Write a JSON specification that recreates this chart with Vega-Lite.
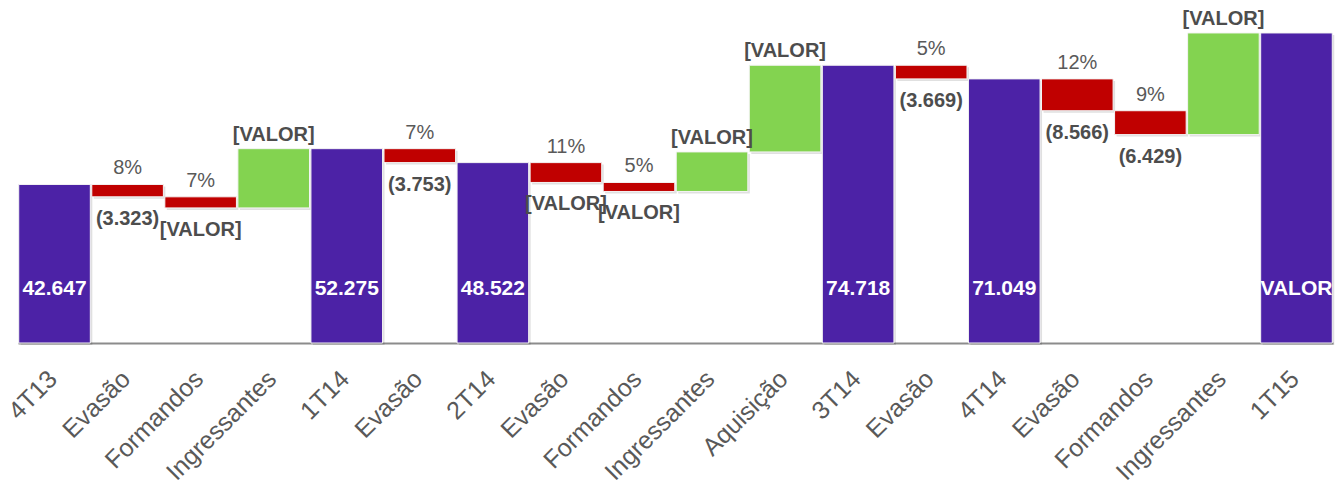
{
  "$schema": "https://vega.github.io/schema/vega-lite/v6.json",
  "width": 1315,
  "height": 335,
  "autosize": {"type": "none"},
  "padding": {"left": 18, "top": 8, "right": 7, "bottom": 143},
  "background": "white",
  "config": {"view": {"stroke": null}, "font": "Liberation Sans"},
  "data": {
    "values": [
      {"key": "4T13#1", "lo": 0, "hi": 42647, "kind": "total", "pct": "", "val": "42.647"},
      {"key": "Evasão#2", "lo": 39324, "hi": 42647, "kind": "dec", "pct": "8%", "val": "(3.323)"},
      {"key": "Formandos#3", "lo": 36339, "hi": 39324, "kind": "dec", "pct": "7%", "val": "[VALOR]"},
      {"key": "Ingressantes#4", "lo": 36339, "hi": 52275, "kind": "inc", "pct": "", "val": "[VALOR]"},
      {"key": "1T14#5", "lo": 0, "hi": 52275, "kind": "total", "pct": "", "val": "52.275"},
      {"key": "Evasão#6", "lo": 48522, "hi": 52275, "kind": "dec", "pct": "7%", "val": "(3.753)"},
      {"key": "2T14#7", "lo": 0, "hi": 48522, "kind": "total", "pct": "", "val": "48.522"},
      {"key": "Evasão#8", "lo": 43185, "hi": 48522, "kind": "dec", "pct": "11%", "val": "[VALOR]"},
      {"key": "Formandos#9", "lo": 40759, "hi": 43185, "kind": "dec", "pct": "5%", "val": "[VALOR]"},
      {"key": "Ingressantes#10", "lo": 40759, "hi": 51400, "kind": "inc", "pct": "", "val": "[VALOR]"},
      {"key": "Aquisição#11", "lo": 51400, "hi": 74718, "kind": "inc", "pct": "", "val": "[VALOR]"},
      {"key": "3T14#12", "lo": 0, "hi": 74718, "kind": "total", "pct": "", "val": "74.718"},
      {"key": "Evasão#13", "lo": 71049, "hi": 74718, "kind": "dec", "pct": "5%", "val": "(3.669)"},
      {"key": "4T14#14", "lo": 0, "hi": 71049, "kind": "total", "pct": "", "val": "71.049"},
      {"key": "Evasão#15", "lo": 62483, "hi": 71049, "kind": "dec", "pct": "12%", "val": "(8.566)"},
      {"key": "Formandos#16", "lo": 56054, "hi": 62483, "kind": "dec", "pct": "9%", "val": "(6.429)"},
      {"key": "Ingressantes#17", "lo": 56054, "hi": 83400, "kind": "inc", "pct": "", "val": "[VALOR]"},
      {"key": "1T15#18", "lo": 0, "hi": 83400, "kind": "total", "pct": "", "val": "VALOR"}
    ]
  },
  "encoding": {
    "x": {
      "field": "key",
      "type": "nominal",
      "sort": null,
      "scale": {"paddingInner": 0.02, "paddingOuter": 0.01},
      "axis": {
        "title": null,
        "labelAngle": -45,
        "labelFontSize": 25,
        "labelColor": "#595959",
        "labelFont": "Liberation Sans",
        "ticks": false,
        "labelPadding": 23,
        "labelOffset": -10,
        "labelOverlap": false,
        "domainColor": "#8c8c8c",
        "domainWidth": 2,
        "labelExpr": "split(datum.label, '#')[0]"
      }
    }
  },
  "layer": [
    {
      "mark": {"type": "bar", "color": "#000000", "opacity": 0.12, "xOffset": 2, "yOffset": 2, "y2Offset": 2},
      "encoding": {
        "y": {"field": "lo", "type": "quantitative", "scale": {"domain": [0, 90115], "nice": false}, "axis": null},
        "y2": {"field": "hi"}
      }
    },
    {
      "mark": {"type": "bar", "stroke": "#f4f4f4", "strokeWidth": 1},
      "encoding": {
        "y": {"field": "lo", "type": "quantitative"},
        "y2": {"field": "hi"},
        "color": {
          "field": "kind",
          "type": "nominal",
          "scale": {"domain": ["total", "dec", "inc"], "range": ["#4C22A6", "#C00000", "#83D350"]},
          "legend": null
        }
      }
    },
    {
      "transform": [{"filter": "datum.kind == 'dec'"}],
      "mark": {"type": "text", "fontSize": 20, "color": "#595959", "baseline": "middle", "dy": -16},
      "encoding": {
        "y": {"field": "hi", "type": "quantitative"},
        "text": {"field": "pct"}
      }
    },
    {
      "transform": [{"filter": "datum.kind == 'dec'"}],
      "mark": {"type": "text", "fontSize": 20, "fontWeight": "bold", "color": "#4d4d4d", "baseline": "middle", "dy": 22},
      "encoding": {
        "y": {"field": "lo", "type": "quantitative"},
        "text": {"field": "val"}
      }
    },
    {
      "transform": [{"filter": "datum.kind == 'inc'"}],
      "mark": {"type": "text", "fontSize": 20, "fontWeight": "bold", "color": "#4d4d4d", "baseline": "middle", "dy": -14},
      "encoding": {
        "y": {"field": "hi", "type": "quantitative"},
        "text": {"field": "val"}
      }
    },
    {
      "transform": [{"filter": "datum.kind == 'total'"}],
      "mark": {"type": "text", "fontSize": 21, "fontWeight": "bold", "color": "#ffffff", "baseline": "middle"},
      "encoding": {
        "y": {"datum": 14500},
        "text": {"field": "val"}
      }
    }
  ]
}
